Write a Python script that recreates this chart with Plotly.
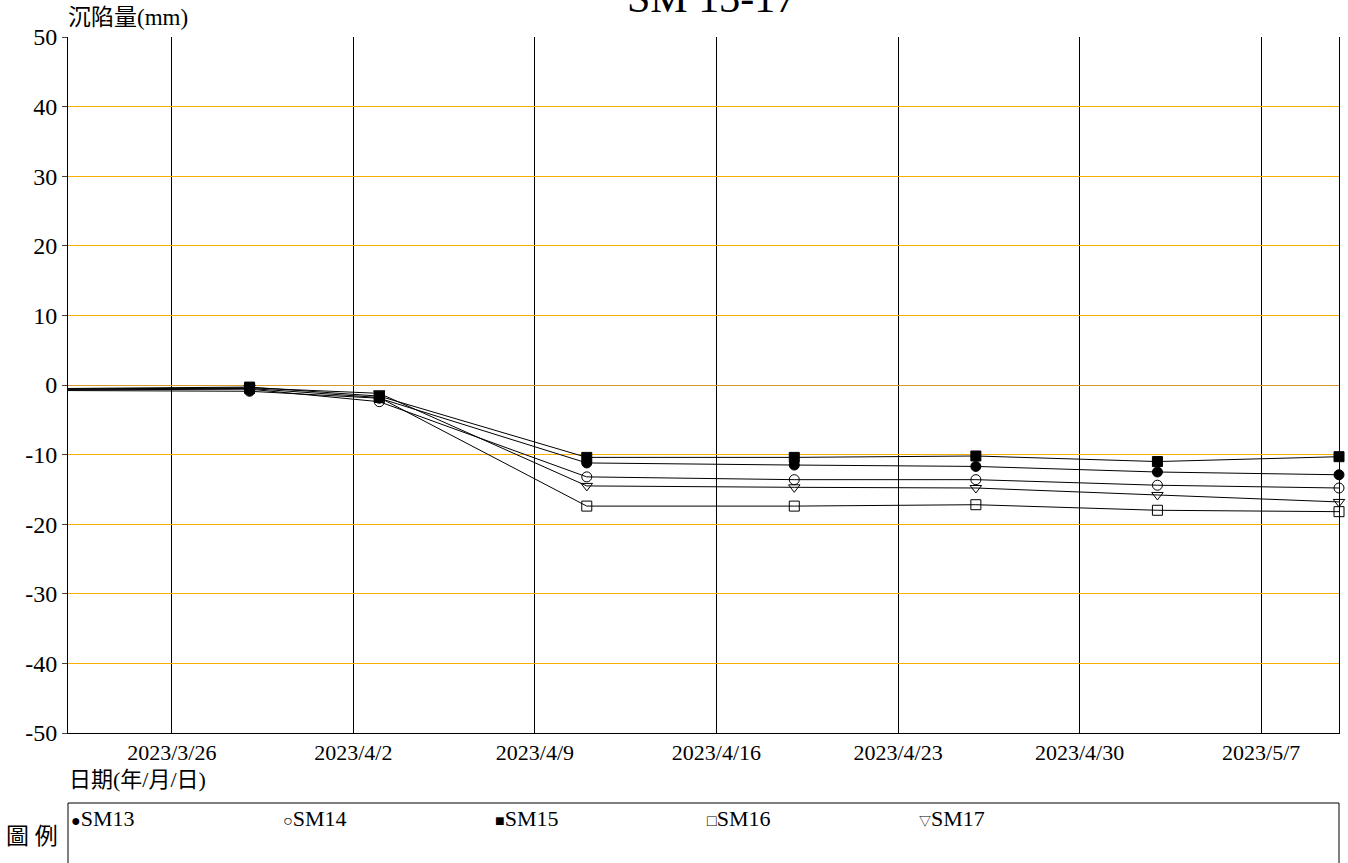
import plotly.graph_objects as go

# ---- data ----
dates = ["2023-03-15", "2023-03-29", "2023-04-03", "2023-04-11",
         "2023-04-19", "2023-04-26", "2023-05-03", "2023-05-10"]
sm13 = [-0.7, -0.9, -1.9, -11.2, -11.5, -11.7, -12.5, -12.9]
sm14 = [-0.8, -0.6, -2.4, -13.2, -13.6, -13.6, -14.4, -14.8]
sm15 = [-0.7, -0.3, -1.6, -10.4, -10.4, -10.2, -11.0, -10.3]
sm16 = [-0.7, -0.5, -1.8, -17.4, -17.4, -17.2, -18.0, -18.2]
sm17 = [-0.8, -0.4, -1.2, -14.5, -14.7, -14.8, -15.8, -16.8]

series_names = ["SM13", "SM14", "SM15", "SM16", "SM17"]
series_values = [sm13, sm14, sm15, sm16, sm17]
series_symbols = ["circle", "circle-open", "square", "square-open", "triangle-down-open"]
legend_glyphs = ["●", "○", "■", "□", "▽"]

y_ticks = [50, 40, 30, 20, 10, 0, -10, -20, -30, -40, -50]
y_ticktext = [str(v) for v in y_ticks]
x_range = ["2023-03-22", "2023-05-10"]

title_text = "SM 13-17"
y_title = "沉陷量(mm)"
x_title = "日期(年/月/日)"
legend_title = "圖 例"

FONT = "Liberation Serif, 'Noto Sans CJK TC', serif"

W, H = 1348, 863
ML, MR, MT, MB = 68, 9, 37, 130
PH = H - MT - MB
PW = W - ML - MR


def py(p):  # pixel y -> paper y
    return (H - MB - p) / PH


def px(p):  # pixel x -> paper x
    return (p - ML) / PW


fig = go.Figure()
for name, vals, sym in zip(series_names, series_values, series_symbols):
    fig.add_trace(go.Scatter(
        x=dates, y=vals, name=name, mode="lines+markers",
        line=dict(color="black", width=1),
        marker=dict(symbol=sym, size=10, color="black",
                    line=dict(color="black", width=1)),
        cliponaxis=False, showlegend=False,
    ))

fig.update_xaxes(
    type="date", range=x_range,
    tick0="2023-03-26", dtick=7 * 24 * 3600 * 1000,
    tickformat="%Y/%-m/%-d",
    showgrid=True, gridcolor="black", gridwidth=1,
    showline=True, linecolor="black", linewidth=1,
    ticks="", ticklabelstandoff=0,
    tickfont=dict(family=FONT, size=22, color="black"),
    zeroline=False,
)
fig.update_yaxes(
    range=[-50, 50], tickvals=y_ticks, ticktext=y_ticktext,
    showgrid=True, gridcolor="#F8B000", gridwidth=1,
    zeroline=True, zerolinecolor="#D49A30", zerolinewidth=1,
    showline=True, linecolor="black", linewidth=1, mirror=True,
    ticks="outside", ticklen=5, tickcolor="#444",
    tickfont=dict(family=FONT, size=24, color="black"),
)

ann = []
ann.append(dict(text=title_text, x=px(711), y=py(23), xref="paper", yref="paper",
                xanchor="center", yanchor="bottom", showarrow=False,
                font=dict(family=FONT, size=42, color="black")))
ann.append(dict(text=y_title, x=px(66), y=py(18), xref="paper", yref="paper",
                xanchor="left", yanchor="middle", showarrow=False,
                font=dict(family=FONT, size=23, color="black")))
ann.append(dict(text=x_title, x=px(67), y=py(779), xref="paper", yref="paper",
                xanchor="left", yanchor="middle", showarrow=False,
                font=dict(family=FONT, size=22, color="black")))
ann.append(dict(text=legend_title, x=px(4), y=py(836), xref="paper", yref="paper",
                xanchor="left", yanchor="middle", showarrow=False,
                font=dict(family=FONT, size=23, color="black")))
for i, (g, n) in enumerate(zip(legend_glyphs, series_names)):
    gsize = 12 if g == "▽" else 16
    label = '<span style="font-size:%dpx">%s</span>%s' % (gsize, g, n)
    ann.append(dict(text=label, x=px(69 + 212 * i), y=py(818), xref="paper", yref="paper",
                    xanchor="left", yanchor="middle", showarrow=False,
                    font=dict(family=FONT, size=22, color="black")))

fig.update_layout(
    width=W, height=H,
    margin=dict(l=ML, r=MR, t=MT, b=MB),
    plot_bgcolor="white", paper_bgcolor="white",
    annotations=ann,
    shapes=[dict(type="rect", xref="paper", yref="paper",
                 x0=0, x1=1, y0=py(803), y1=py(880),
                 line=dict(color="black", width=1))],
)

fig.write_html("out.html", config={"displayModeBar": False},
               post_script="document.body.style.margin='0';")
